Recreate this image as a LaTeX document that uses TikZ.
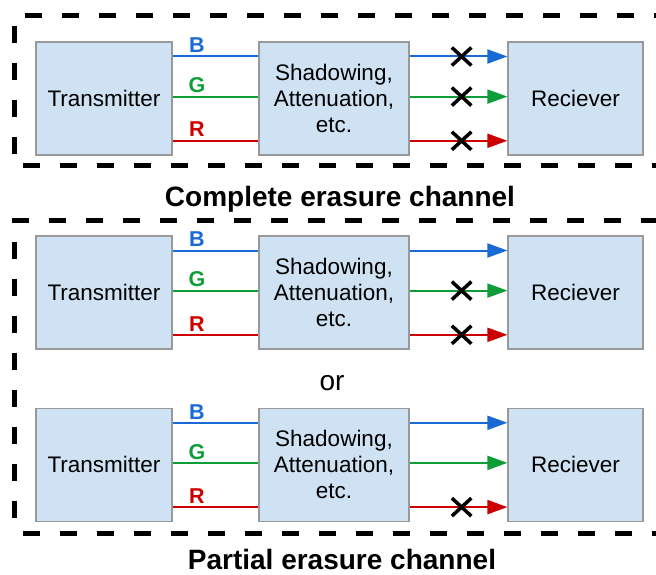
\documentclass[tikz,border=0pt]{standalone}
\usepackage{fontspec}
\setmainfont{Liberation Sans}
\usetikzlibrary{arrows.meta,shapes.misc}
\definecolor{boxfill}{HTML}{CFE2F3}
\definecolor{boxedge}{HTML}{999999}
\definecolor{cB}{HTML}{1A6AD6}
\definecolor{cG}{HTML}{0F9D3A}
\definecolor{cR}{HTML}{CC0000}
\tikzset{
  blk/.style={draw=boxedge, fill=boxfill, line width=1.2pt, minimum height=113pt,
    inner sep=0pt, align=center, font=\fontsize{22.5}{26}\selectfont},
  sig/.style={line width=2pt},
  arr/.style={sig, -{Triangle[length=20pt,width=14pt]}},
  lab/.style={anchor=base, inner sep=0pt, font=\fontsize{21.5}{24}\selectfont\bfseries},
  xmark/.style={cross out, draw=black, line width=3.5pt, minimum width=16pt, minimum height=14.5pt, inner sep=0pt},
  dbox/.style={line width=5pt, black, dash pattern=on 17pt off 20pt},
  ttl/.style={anchor=base, inner sep=0pt, font=\fontsize{28}{32}\selectfont\bfseries},
}
\newcommand\rgbgroup[2]{%
  \node[blk, minimum width=136pt] (t#1) at (104,#2+56.5) {Transmitter};
  \node[blk, minimum width=150pt] (s#1) at (334,#2+56.5) {Shadowing,\\Attenuation,\\etc.};
  \node[blk, minimum width=135pt] (r#1) at (575.5,#2+56.5) {Reciever};
  \coordinate (cB#1) at (0,#2+14.5);
  \coordinate (cG#1) at (0,#2+54.6);
  \coordinate (cR#1) at (0,#2+98.8);
  \draw[sig, cB] (t#1.east |- cB#1) -- (s#1.west |- cB#1);
  \draw[sig, cG] (t#1.east |- cG#1) -- (s#1.west |- cG#1);
  \draw[sig, cR] (t#1.east |- cR#1) -- (s#1.west |- cR#1);
  \draw[arr, cB] (s#1.east |- cB#1) -- (r#1.west |- cB#1);
  \draw[arr, cG] (s#1.east |- cG#1) -- (r#1.west |- cG#1);
  \draw[arr, cR] (s#1.east |- cR#1) -- (r#1.west |- cR#1);
  \node[lab, text=cB] (lB#1) at (197,#2+14.5-3.8) {B};
  \node[lab, text=cG] (lG#1) at (197,#2+54.6-3.8) {G};
  \node[lab, text=cR] (lR#1) at (197,#2+98.8-3.8) {R};
}
\begin{document}
\begin{tikzpicture}[x=1pt,y=-1pt]
\useasboundingbox (0,0) rectangle (656,575);
% dashed frames
\draw[dbox] (25,16) -- (660,16);
\draw[dbox] (14.5,26) -- (14.5,166);
\draw[dbox] (22.7,166) -- (660,166);
\draw[dbox] (12,220.7) -- (660,220.7);
\draw[dbox] (14.5,241.7) -- (14.5,533);
\draw[dbox] (22.7,533) -- (660,533);
% groups
\rgbgroup{1}{42}
\rgbgroup{2}{236}
\rgbgroup{3}{408.3}
% erasure marks
\node[xmark] (xB1) at ([xshift=52pt]s1.east |- cB1) {};
\node[xmark] (xG1) at ([xshift=52pt]s1.east |- cG1) {};
\node[xmark] (xR1) at ([xshift=52pt]s1.east |- cR1) {};
\node[xmark] (xG2) at ([xshift=52pt]s2.east |- cG2) {};
\node[xmark] (xR2) at ([xshift=52pt]s2.east |- cR2) {};
\node[xmark] (xR3) at ([xshift=52pt]s3.east |- cR3) {};
% texts
\node[ttl] (ttl1) at (340,206) {Complete erasure channel};
\node[anchor=base, inner sep=0pt, font=\fontsize{28}{32}\selectfont] (or) at (332,390.7) {or};
\node[ttl] (ttl2) at (342,569.5) {Partial erasure channel};
\end{tikzpicture}
\end{document}
